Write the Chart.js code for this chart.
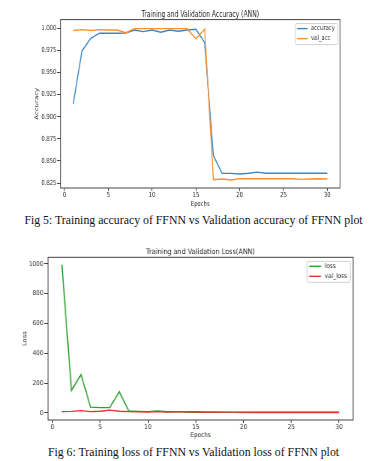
<!DOCTYPE html>
<html>
<head>
<meta charset="utf-8">
<script src="https://cdn.jsdelivr.net/npm/chart.js@4"></script>
<style>
  html, body { margin: 0; padding: 0; background: #fff; }
  body { width: 387px; height: 461px; position: relative; overflow: hidden; }
  .fig { position: absolute; left: 0; transform-origin: 0 0; }
  .caption {
    position: absolute; left: 0; width: 387px; text-align: center;
    font-family: "Liberation Serif", "Times New Roman", serif;
    font-size: 11.8px; line-height: 14px; color: #111;
  }
</style>
</head>
<body>
<div class="fig" id="fig1" style="top:0; transform: scaleX(0.75);">
  <canvas id="accChart" width="516" height="208" style="width:516px;height:208px"></canvas>
</div>
<div class="caption" style="top:213px">Fig 5: Training accuracy of FFNN vs Validation accuracy of FFNN plot</div>
<div class="fig" id="fig2" style="top:240px; transform: scaleX(0.85);">
  <canvas id="lossChart" width="455" height="200" style="width:455px;height:200px"></canvas>
</div>
<div class="caption" style="top:445px">Fig 6: Training loss of FFNN vs Validation loss of FFNN plot</div>

<script>
const epochs = [1, 2, 3, 4, 5, 6, 7, 8, 9, 10, 11, 12, 13, 14, 15, 16, 17, 18, 19, 20, 21, 22, 23, 24, 25, 26, 27, 28, 29, 30];
const accuracy = [0.9146, 0.9744, 0.9887, 0.9944, 0.9944, 0.9943, 0.9946, 0.9980, 0.9962, 0.9980, 0.9955, 0.9980, 0.9966, 0.9980, 0.9989, 0.9838,
  0.8559, 0.8359, 0.8359, 0.8352, 0.8360, 0.8374, 0.8360, 0.8360, 0.8360, 0.8360, 0.8360, 0.8360, 0.8360, 0.8360];
const valAcc = [0.9974, 0.9985, 0.9974, 0.9985, 0.9980, 0.9980, 0.9950, 0.9996, 0.9996, 0.9996, 0.9996, 0.9996, 0.9996, 0.9996, 0.9880, 0.9989,
  0.8288, 0.8295, 0.8284, 0.8300, 0.8298, 0.8298, 0.8298, 0.8298, 0.8298, 0.8298, 0.8291, 0.8296, 0.8298, 0.8296];
const loss = [994, 150, 257, 38, 35, 35, 141, 12, 10, 8, 13, 7, 8, 6, 4, 3, 3, 3, 3, 2, 2, 2, 2, 2, 2, 2, 2, 2, 2, 2];
const valLoss = [8, 10, 15, 8, 11, 18, 11, 8, 7, 6, 8, 6, 7, 7, 7, 6, 6, 5, 5, 5, 5, 4, 4, 4, 4, 4, 4, 4, 4, 4];

const epochTicks = [0, 5, 10, 15, 20, 25, 30];
const accTicks = [0.825, 0.85, 0.875, 0.9, 0.925, 0.95, 0.975, 1.0];
const lossTicks = [0, 200, 400, 600, 800, 1000];

Chart.defaults.font.family = '"DejaVu Sans", sans-serif';
Chart.defaults.color = '#2a2a2a';
Chart.defaults.animation = false;

// matplotlib-ish frame round the axes and a boxed legend in the top right corner
const frameAndLegend = {
  id: 'frameAndLegend',
  afterDraw(chart, args, opts) {
    const { ctx, chartArea } = chart;
    ctx.save();
    ctx.strokeStyle = '#444';
    ctx.lineWidth = 1;
    ctx.strokeRect(chartArea.left, chartArea.top, chartArea.right - chartArea.left, chartArea.bottom - chartArea.top);

    ctx.font = `${opts.size}px "DejaVu Sans"`;
    const sets = chart.data.datasets;
    const textW = Math.max(...sets.map(d => ctx.measureText(d.label).width));
    const w = 21 + textW + 4;
    const h = 21;
    const x = chartArea.right - 3 - w;
    const y = chartArea.top + 4;
    ctx.fillStyle = 'rgba(255,255,255,0.8)';
    ctx.strokeStyle = '#d0d0d0';
    ctx.lineWidth = 1;
    ctx.beginPath();
    ctx.roundRect(x, y, w, h, 2);
    ctx.fill();
    ctx.stroke();
    sets.forEach((d, i) => {
      const ry = y + 5 + i * 10;
      ctx.strokeStyle = d.borderColor;
      ctx.lineWidth = 1.4;
      ctx.beginPath();
      ctx.moveTo(x + 2.5, ry);
      ctx.lineTo(x + 16.5, ry);
      ctx.stroke();
      ctx.fillStyle = '#2a2a2a';
      ctx.textBaseline = 'middle';
      ctx.fillText(d.label, x + 21, ry);
    });
    ctx.restore();
  }
};

const points = (values) => values.map((v, i) => ({ x: epochs[i], y: v }));

const lineOptions = (cfg) => ({
  type: 'line',
  data: {
    datasets: cfg.series.map((s) => ({
      label: s.label,
      data: points(s.values),
      borderColor: s.color,
      borderWidth: 1.4,
      pointRadius: 0,
      tension: 0,
      order: s.order,
    })),
  },
  options: {
    responsive: false,
    layout: { padding: cfg.padding },
    plugins: {
      legend: { display: false },
      tooltip: { enabled: false },
      title: {
        display: true,
        fullSize: false,
        text: cfg.title,
        color: '#1e1e1e',
        font: { size: cfg.titleSize, weight: 'normal' },
        padding: cfg.titlePadding,
      },
      frameAndLegend: { size: cfg.font },
    },
    scales: {
      x: {
        type: 'linear',
        min: -0.45,
        max: 31.45,
        afterBuildTicks: (s) => { s.ticks = epochTicks.map((v) => ({ value: v })); },
        afterFit: (s) => { s.height = 20; },
        grid: { drawOnChartArea: false, drawTicks: true, tickLength: 3, color: '#444' },
        border: { display: false },
        ticks: { padding: 0, autoSkip: false, maxRotation: 0, font: { size: cfg.font } },
        title: { display: true, text: 'Epochs', font: { size: cfg.font }, padding: { top: 0, bottom: cfg.xTitlePad } },
      },
      y: {
        min: cfg.yMin,
        max: cfg.yMax,
        afterBuildTicks: (s) => { s.ticks = cfg.yTicks.map((v) => ({ value: v })); },
        afterFit: (s) => { s.width = cfg.yWidth; },
        grid: { drawOnChartArea: false, drawTicks: true, tickLength: 4.5, color: '#444' },
        border: { display: false },
        ticks: { padding: 1, font: { size: cfg.font }, callback: cfg.yFormat },
        title: { display: true, text: cfg.yTitle, font: { size: cfg.font }, padding: 0 },
      },
    },
  },
  plugins: [frameAndLegend],
});

function renderChart(chartId, cfg) {
  return new Chart(document.getElementById(chartId).getContext('2d'), lineOptions(cfg));
}

renderChart('accChart', {
  title: 'Training and Validation Accuracy (ANN)',
  titleSize: 8,
  titlePadding: { top: 10, bottom: 0 },
  font: 7,
  padding: { left: 45, right: 62.7, top: 0, bottom: 0 },
  yWidth: 35.7,
  yMin: 0.8194,
  yMax: 1.0098,
  yTicks: accTicks,
  yTitle: 'Accuracy',
  yFormat: (v) => v.toFixed(3),
  xTitlePad: 0,
  series: [
    { label: 'accuracy', values: accuracy, color: '#3a87c4', order: 1 },
    { label: 'val_acc', values: valAcc, color: '#ff8f2a', order: 0 },
  ],
});

renderChart('lossChart', {
  title: 'Training and Validation Loss(ANN)',
  titleSize: 7.6,
  titlePadding: { top: 7, bottom: 1.2 },
  font: 6.7,
  padding: { left: 25.2, right: 39.7, top: 0, bottom: 0 },
  yWidth: 31.3,
  yMin: -48,
  yMax: 1044,
  yTicks: lossTicks,
  yTitle: 'Loss',
  yFormat: (v) => String(v),
  xTitlePad: 0.6,
  series: [
    { label: 'loss', values: loss, color: '#2e9e2e', order: 1 },
    { label: 'val_loss', values: valLoss, color: '#f03030', order: 0 },
  ],
});
</script>
</body>
</html>
